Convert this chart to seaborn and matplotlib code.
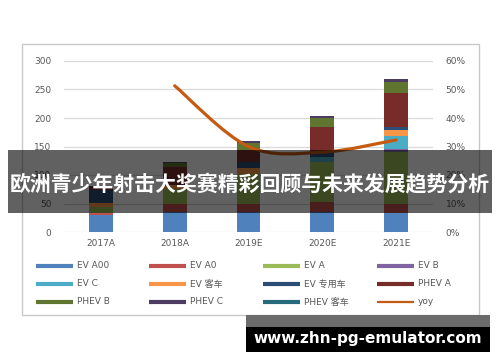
import numpy as np
import matplotlib
matplotlib.use("Agg")
import matplotlib.pyplot as plt
import seaborn as sns
from matplotlib.path import Path
from matplotlib.patches import PathPatch, Rectangle
from matplotlib.lines import Line2D

# ---------------- data ----------------
categories = ["2017A", "2018A", "2019E", "2020E", "2021E"]
series_names = ["EV A00", "EV A0", "EV A", "EV B", "EV C", "EV 客车",
                "EV 专用车", "PHEV A", "PHEV B", "PHEV C", "PHEV 客车"]
ev_a00 = [30.0, 35.0, 35.5, 35.5, 32.5]
ev_a0 = [3.5, 14.0, 14.5, 17.5, 17.5]
ev_a = [9.5, 26.0, 52.5, 70.0, 91.0]
ev_b = [0.0, 0.0, 0.0, 0.0, 4.0]
ev_c = [0.0, 0.0, 0.0, 9.0, 24.0]
ev_bus = [8.0, 7.5, 10.5, 0.0, 10.0]
ev_special = [22.0, 0.0, 10.0, 10.5, 6.0]
phev_a = [6.0, 32.0, 21.5, 42.0, 58.0]
phev_b = [0.0, 6.0, 12.0, 16.0, 21.0]
phev_c = [1.5, 1.5, 2.5, 3.5, 4.0]
phev_bus = [0.0, 0.0, 0.0, 0.0, 0.0]
yoy_categories = ["2018A", "2019E", "2020E", "2021E"]
yoy_pct = [51.3, 30.0, 28.0, 32.3]

left_ticks = [0, 50, 100, 150, 200, 250, 300]
right_ticks = [0, 10, 20, 30, 40, 50, 60]
title_text = "欧洲青少年射击大奖赛精彩回顾与未来发展趋势分析"
watermark = "www.zhn-pg-emulator.com"

series_values = [ev_a00, ev_a0, ev_a, ev_b, ev_c, ev_bus, ev_special,
                 phev_a, phev_b, phev_c, phev_bus]
colors = ["#4f81bd", "#c0504d", "#9bbb59", "#8064a2", "#4bacc6", "#f79646",
          "#2c4d75", "#772c2a", "#5f7530", "#4d3b62", "#276a7c"]
line_color = "#c55a11"
grey_txt = "#595959"

# ---------------- figure ----------------
sns.set_theme(style="white")
plt.rcParams["font.family"] = ["DejaVu Sans", "Noto Sans CJK SC"]

W, H = 500, 362
fig = plt.figure(figsize=(W / 100, H / 100), dpi=100)
fig.patch.set_facecolor("white")

def fx(px):
    return px / W

def fy(py):
    return 1 - py / H

ax = fig.add_axes([fx(64), fy(232), (433 - 64) / W, (232 - 61) / H])

bottom = np.zeros(len(categories))
for name, vals, col in zip(series_names, series_values, colors):
    sns.barplot(x=categories, y=vals, bottom=bottom.copy(), color=col,
                width=0.32, saturation=1, errorbar=None, ax=ax,
                linewidth=0, edgecolor="none")
    bottom += np.asarray(vals)

ax.set_ylim(0, 300)
ax.set_xlim(-0.5, len(categories) - 0.5)
ax.set_yticks(left_ticks)
ax.set_yticklabels([str(t) for t in left_ticks])
ax.yaxis.grid(True, color="#d9d9d9", linewidth=0.9)
ax.xaxis.grid(False)
ax.set_axisbelow(True)
for s in ax.spines.values():
    s.set_visible(False)
ax.tick_params(axis="y", length=0, pad=9, labelsize=6.5, labelcolor=grey_txt)
ax.tick_params(axis="x", length=0, pad=5, labelsize=6.5, labelcolor=grey_txt)
ax.set_xlabel("")
ax.set_ylabel("")

# secondary axis with smoothed yoy line
ax2 = ax.twinx()
ax2.set_ylim(0, 0.6)
ax2.set_yticks([t / 100 for t in right_ticks])
ax2.set_yticklabels([f"{t}%" for t in right_ticks])
for s in ax2.spines.values():
    s.set_visible(False)
ax2.tick_params(axis="y", length=0, pad=9, labelsize=6.5, labelcolor=grey_txt)
ax2.grid(False)

xs = [categories.index(c) for c in yoy_categories]
ys = [v / 100 for v in yoy_pct]
pts = np.column_stack([xs, ys])
verts = [pts[0]]
codes = [Path.MOVETO]
n = len(pts)
for i in range(n - 1):
    p0 = pts[i - 1] if i > 0 else pts[i]
    p1 = pts[i]
    p2 = pts[i + 1]
    p3 = pts[i + 2] if i + 2 < n else pts[i + 1]
    c1 = p1 + (p2 - p0) / 6
    c2 = p2 - (p3 - p1) / 6
    verts += [c1, c2, p2]
    codes += [Path.CURVE4] * 3
ax2.add_patch(PathPatch(Path(verts, codes), fill=False, edgecolor=line_color,
                        linewidth=2.3, capstyle="round", zorder=5))

# outer chart frame
fig.add_artist(Rectangle((fx(22), fy(315)), (479 - 22) / W, (315 - 44) / H,
                         transform=fig.transFigure, fill=False,
                         edgecolor="#c8c8c8", linewidth=1, zorder=2))

# legend (4 columns x 3 rows, row-major)
legend_cols_x = [36, 149, 263, 377]
legend_rows_y = [265.5, 284, 302]
legend_names = series_names + ["yoy"]
legend_colors = colors + [line_color]
for k, (name, col) in enumerate(zip(legend_names, legend_colors)):
    r, c = divmod(k, 4)
    x0 = legend_cols_x[c]
    y0 = legend_rows_y[r]
    lw = 1.6 if name == "yoy" else 3.0
    fig.add_artist(Line2D([fx(x0), fx(x0 + 37)], [fy(y0), fy(y0)],
                          transform=fig.transFigure, color=col, linewidth=lw,
                          solid_capstyle="butt", zorder=3))
    fig.text(fx(x0 + 41), fy(y0), name, fontsize=6.5, color=grey_txt,
             va="center", ha="left", zorder=3)

# title banner overlay
fig.add_artist(Rectangle((fx(8), fy(213)), (492 - 8) / W, (213 - 150) / H,
                         transform=fig.transFigure, facecolor="black",
                         alpha=0.62, edgecolor="none", zorder=10))
fig.text(0.5, fy(185), title_text, fontsize=15, color="white",
         fontweight="bold", ha="center", va="center",
         family=["Noto Sans CJK SC", "DejaVu Sans"], zorder=11)

# watermark
fig.add_artist(Rectangle((fx(246), fy(327)), (490 - 246) / W, 12 / H,
                         transform=fig.transFigure, facecolor="#6b6b6b",
                         edgecolor="none", zorder=10))
fig.add_artist(Rectangle((fx(246), fy(352)), (490 - 246) / W, 25 / H,
                         transform=fig.transFigure, facecolor="black",
                         edgecolor="none", zorder=10))
fig.text(fx(368), fy(339), watermark, fontsize=11, color="white",
         fontweight="bold", ha="center", va="center", zorder=11)

fig.savefig("out.png", dpi=100)
